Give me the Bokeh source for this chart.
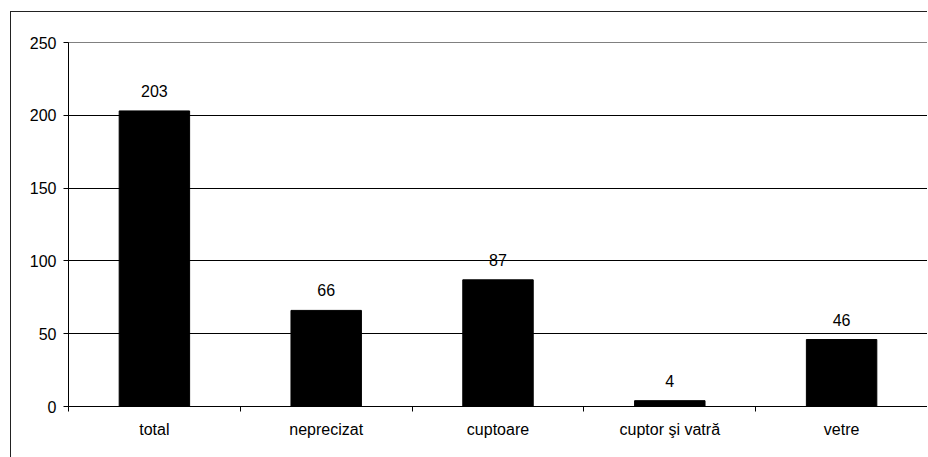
from bokeh.plotting import figure
from bokeh.models import ColumnDataSource, LabelSet, FixedTicker, Range1d
from bokeh.core.properties import value
from bokeh.embed import file_html
from bokeh.resources import INLINE

categories = ["total", "neprecizat", "cuptoare", "cuptor şi vatră", "vetre"]
values = [203, 66, 87, 4, 46]
y_ticks = [0, 50, 100, 150, 200, 250]

FONT = "Liberation Sans"
FSIZE = "16px"

xs = [i + 0.5 for i in range(len(categories))]
src = ColumnDataSource(dict(x=xs, top=values, label=[str(v) for v in values]))

# figure starts at the outer chart border (page x=10, y=11)
p = figure(width=917, height=446, output_backend="svg", toolbar_location=None,
           x_range=Range1d(0, len(categories)), y_range=Range1d(0, 250),
           min_border_left=57, min_border_top=30, min_border_right=1, min_border_bottom=52)
p.styles = {"margin-left": "10px", "margin-top": "11px",
            "border-left": "1px solid #222222", "border-top": "1px solid #222222"}

p.vbar(x="x", top="top", width=0.41, bottom=0, source=src,
       fill_color="black", line_color="black")

p.add_layout(LabelSet(x="x", y="top", text="label", source=src,
                      text_align="center", text_baseline="bottom", y_offset=14,
                      text_font=value(FONT), text_font_size=value(FSIZE),
                      text_color="black"))

# x axis
p.xaxis.ticker = FixedTicker(ticks=xs, minor_ticks=list(range(len(categories) + 1)))
p.xaxis.major_label_overrides = {x: c for x, c in zip(xs, categories)}
p.xaxis.major_tick_out = 0
p.xaxis.major_tick_in = 0
p.xaxis.minor_tick_out = 5
p.xaxis.minor_tick_in = 0
p.xaxis.minor_tick_line_color = "black"
p.xaxis.major_label_standoff = 9
p.xaxis.major_label_text_font = FONT
p.xaxis.major_label_text_font_size = FSIZE
p.xaxis.major_label_text_color = "black"
p.xaxis.axis_line_color = "black"

# y axis
p.yaxis.ticker = FixedTicker(ticks=y_ticks)
p.yaxis.major_tick_out = 5
p.yaxis.major_tick_in = 0
p.yaxis.minor_tick_line_color = None
p.yaxis.major_label_standoff = 7
p.yaxis.major_label_text_font = FONT
p.yaxis.major_label_text_font_size = FSIZE
p.yaxis.major_label_text_color = "black"
p.yaxis.axis_line_color = "black"
p.yaxis.major_tick_line_color = "black"

p.xgrid.grid_line_color = None
p.ygrid.ticker = FixedTicker(ticks=y_ticks)
p.ygrid.grid_line_color = "black"
p.ygrid.grid_line_alpha = 1.0

p.outline_line_color = "#808080"
p.outline_line_width = 1

p.background_fill_color = "white"
p.border_fill_color = "white"

open("out.html", "w").write(file_html(p, INLINE))
